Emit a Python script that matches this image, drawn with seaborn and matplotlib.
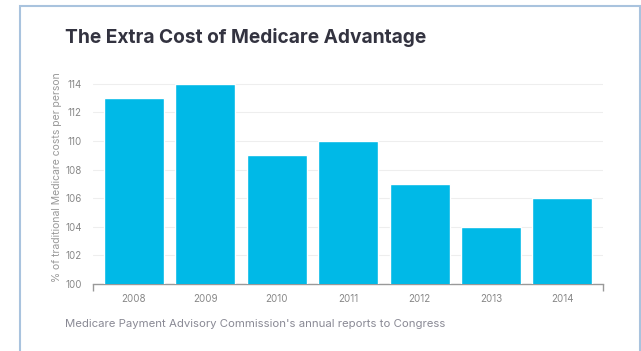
import matplotlib
matplotlib.use("Agg")
import matplotlib.pyplot as plt
import seaborn as sns
import pandas as pd
from matplotlib.patches import Rectangle

years = ["2008", "2009", "2010", "2011", "2012", "2013", "2014"]
values = [113, 114, 109, 110, 107, 104, 106]
yticks = [100, 102, 104, 106, 108, 110, 112, 114]

title = "The Extra Cost of Medicare Advantage"
ylabel = "% of traditional Medicare costs per person"
source = "Medicare Payment Advisory Commission's annual reports to Congress"

sns.set_style("white")
plt.rcParams['font.family'] = ['Inter', 'DejaVu Sans']

df = pd.DataFrame({"year": years, "value": values})

fig = plt.figure(figsize=(6.41, 3.51), dpi=100)
ax = fig.add_axes([0.145, 0.191, 0.796, 0.611])

sns.barplot(data=df, x="year", y="value", color="#00b9e7", saturation=1,
            width=0.84, ax=ax, zorder=3)

ax.set_ylim(100, 115)
ax.set_xlim(-0.57, 6.57)
ax.set_yticks(yticks)
ax.set_yticklabels([str(t) for t in yticks])
ax.grid(axis="y", color="#eeeeee", linewidth=0.8, zorder=0)
for s in ["top", "right", "left"]:
    ax.spines[s].set_visible(False)
ax.spines["bottom"].set_color("#999999")
ax.spines["bottom"].set_linewidth(1.0)
ax.tick_params(axis="x", colors="#999999", labelcolor="#888888", labelsize=7,
               length=4, width=1, direction="out", pad=3)
ax.tick_params(axis="y", colors="#888888", labelsize=7, length=0, pad=8)
ax.set_xticks([-0.565, 6.565], minor=True)
ax.tick_params(axis="x", which="minor", colors="#999999", length=5, width=1,
               bottom=True)
ax.set_xlabel("")
ax.set_ylabel(ylabel, fontsize=7.5, color="#999999")
ax.yaxis.set_label_coords(-0.06, 0.5)

fig.text(0.101, 0.877, title, fontsize=13.8, fontweight="bold", color="#333340")
fig.text(0.101, 0.068, source, fontsize=8.2, color="#8a8a95")

fig.patches.append(Rectangle((20/641, -0.05), 620/641, 1 - 6/351 + 0.05,
                             transform=fig.transFigure, fill=False,
                             edgecolor="#a9c3de", linewidth=1.5))

fig.savefig("out.png", dpi=100)
